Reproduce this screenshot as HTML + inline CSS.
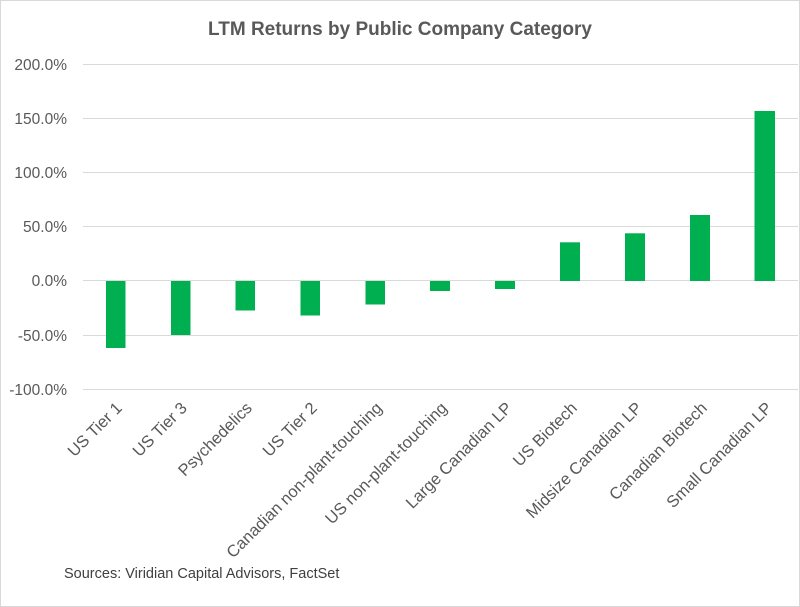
<!DOCTYPE html>
<html><head><style>body{margin:0;background:#fff}svg{display:block}</style></head><body>
<svg width="800" height="607" xmlns="http://www.w3.org/2000/svg" font-family="Liberation Sans, sans-serif">
<rect x="0.5" y="0.5" width="799" height="606" fill="#fff" stroke="#d9d9d9"/>
<text x="400" y="35" text-anchor="middle" font-size="19" font-weight="bold" fill="#595959">LTM Returns by Public Company Category</text>
<g stroke="#d9d9d9" stroke-width="1">
<line x1="83" x2="798" y1="64.5" y2="64.5"/><line x1="83" x2="798" y1="118.5" y2="118.5"/>
<line x1="83" x2="798" y1="172.5" y2="172.5"/><line x1="83" x2="798" y1="226.5" y2="226.5"/>
<line x1="83" x2="798" y1="280.5" y2="280.5"/><line x1="83" x2="798" y1="335.5" y2="335.5"/>
<line x1="83" x2="798" y1="389.5" y2="389.5"/>
</g>
<g font-size="15.5" fill="#595959" text-anchor="end">
<text x="67" y="70">200.0%</text><text x="67" y="124">150.0%</text><text x="67" y="178">100.0%</text>
<text x="67" y="232">50.0%</text><text x="67" y="286">0.0%</text><text x="67" y="341">-50.0%</text><text x="67" y="395">-100.0%</text>
</g>
<g fill="#00b050">
<rect x="106" y="281" width="19.5" height="67"/>
<rect x="171" y="281" width="19.5" height="54"/>
<rect x="235.5" y="281" width="19.5" height="29.5"/>
<rect x="300.5" y="281" width="19.5" height="34.5"/>
<rect x="365.5" y="281" width="19.5" height="23.5"/>
<rect x="430" y="281" width="20" height="10"/>
<rect x="495" y="281" width="20" height="8"/>
<rect x="560" y="242.3" width="20" height="38.7"/>
<rect x="625" y="233.3" width="20" height="47.7"/>
<rect x="690" y="215" width="20" height="66"/>
<rect x="754.5" y="111" width="20.5" height="170"/>
</g>
<g font-size="16.5" fill="#595959" text-anchor="end">
<text transform="translate(123,409) rotate(-45)">US Tier 1</text>
<text transform="translate(188,409) rotate(-45)">US Tier 3</text>
<text transform="translate(253,409) rotate(-45)">Psychedelics</text>
<text transform="translate(318,409) rotate(-45)">US Tier 2</text>
<text transform="translate(383,409) rotate(-45)">Canadian non-plant-touching</text>
<text transform="translate(448,409) rotate(-45)">US non-plant-touching</text>
<text transform="translate(513,409) rotate(-45)">Large Canadian LP</text>
<text transform="translate(578,409) rotate(-45)">US Biotech</text>
<text transform="translate(643,409) rotate(-45)">Midsize Canadian LP</text>
<text transform="translate(708,409) rotate(-45)">Canadian Biotech</text>
<text transform="translate(773,409) rotate(-45)">Small Canadian LP</text>
</g>
<text x="64" y="578" font-size="14.5" fill="#404040">Sources: Viridian Capital Advisors, FactSet</text>
</svg>
</body></html>
